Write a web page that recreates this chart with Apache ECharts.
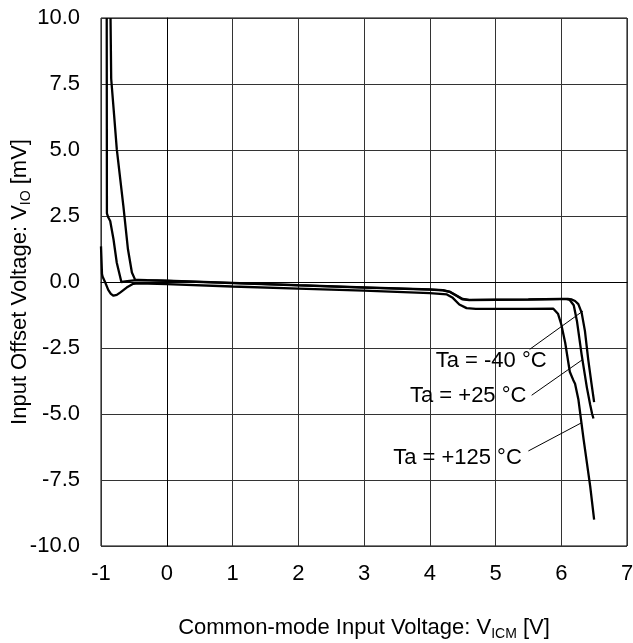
<!DOCTYPE html>
<html><head><meta charset="utf-8">
<script src="https://cdn.jsdelivr.net/npm/echarts@6/dist/echarts.min.js"></script>
<style>html,body{margin:0;padding:0;background:#fff;}#c{width:633px;height:643px;}</style>
</head><body><div id="c"></div>
<script>
const FONT = 'Liberation Sans, Arial, Helvetica, sans-serif';

// Ta = -40 °C
const xM40 = [-0.855, -0.845, -0.80, -0.76, -0.66, -0.59, -0.53, -0.48, -0.43, -0.3, 0, 1, 2, 3, 4, 4.2, 4.3, 4.4, 4.5, 4.6, 5, 5.5, 6.0, 6.1, 6.16, 6.21, 6.26, 6.31, 6.36, 6.41, 6.46, 6.50];
const yM40 = [10, 7.7, 6.3, 5.03, 2.88, 1.24, 0.36, 0.08, 0.08, 0.07, 0.05, -0.03, -0.12, -0.20, -0.28, -0.31, -0.36, -0.50, -0.64, -0.68, -0.67, -0.66, -0.64, -0.64, -0.66, -0.72, -0.84, -1.16, -1.85, -2.93, -3.85, -4.55];

// Ta = +25 °C
const xP25 = [-0.913, -0.910, -0.89, -0.86, -0.81, -0.76, -0.69, -0.60, -0.5, -0.4, 0, 1, 2, 3, 4, 4.2, 4.3, 4.4, 4.5, 4.6, 5, 5.5, 6.0, 6.08, 6.13, 6.19, 6.24, 6.31, 6.39, 6.44, 6.47, 6.49];
const yP25 = [10, 2.6, 2.45, 2.31, 1.62, 0.73, 0.0, 0.03, 0.06, 0.07, 0.04, -0.04, -0.13, -0.21, -0.29, -0.32, -0.37, -0.51, -0.66, -0.69, -0.68, -0.67, -0.65, -0.65, -0.68, -0.88, -1.5, -2.75, -4.0, -4.65, -5.0, -5.17];

// Ta = +125 °C
const xP125 = [-1.0, -0.985, -0.975, -0.96, -0.93, -0.89, -0.85, -0.81, -0.76, -0.71, -0.61, -0.51, -0.43, 0, 1, 2, 3, 4, 4.26, 4.35, 4.45, 4.56, 4.7, 5, 5.5, 5.88, 5.95, 6.0, 6.06, 6.13, 6.18, 6.21, 6.26, 6.34, 6.44, 6.50];
const yP125 = [1.35, 0.3, 0.2, 0.18, -0.05, -0.3, -0.45, -0.52, -0.49, -0.4, -0.21, -0.07, -0.05, -0.08, -0.17, -0.25, -0.33, -0.42, -0.47, -0.6, -0.85, -0.99, -1.02, -1.02, -1.02, -1.01, -1.2, -1.6, -2.3, -3.4, -3.7, -3.85, -4.44, -5.96, -7.73, -9.0];

const seriesNames = ['Ta = -40 °C', 'Ta = +25 °C', 'Ta = +125 °C'];
const seriesX = [xM40, xP25, xP125];
const seriesY = [yM40, yP25, yP125];

// annotation positions (data coordinates)
const labelTexts = ['Ta = -40 °C', 'Ta = +25 °C', 'Ta = +125 °C'];
const labelAt = [[4.09, -3.0], [5.47, -4.33], [5.40, -6.68]];
const labelAlign = ['left', 'right', 'right'];
const leaderFrom = [[5.52, -2.55], [5.55, -4.29], [5.50, -6.40]];
const leaderTo = [[6.33, -1.10], [6.33, -2.93], [6.31, -5.33]];

const chart = echarts.init(document.getElementById('c'), null, {renderer: 'canvas'});

const series = seriesNames.map((n, i) => ({
  name: n,
  type: 'line',
  showSymbol: false,
  symbol: 'none',
  animation: false,
  lineStyle: {color: '#000', width: 2.3},
  data: seriesX[i].map((x, k) => [x, seriesY[i][k]])
}));

chart.setOption({
  animation: false,
  backgroundColor: '#fff',
  textStyle: {fontFamily: FONT},
  grid: {left: 101, right: 6, top: 18, bottom: 97, show: true, borderColor: '#000', borderWidth: 1,
         containLabel: false, outerBoundsMode: 'none'},
  xAxis: {
    type: 'value', min: -1, max: 7, interval: 1,
    axisLine: {show: true, lineStyle: {color: '#000', width: 1}},
    axisTick: {show: false},
    splitLine: {show: true, lineStyle: {color: '#333', width: 1}},
    axisLabel: {color: '#000', fontSize: 22, fontFamily: FONT, margin: 17},
    name: '{m|Common-mode Input Voltage: V}{s|ICM}{m| [V]}',
    nameLocation: 'middle', nameGap: 69, nameMoveOverlap: false,
    nameTextStyle: {
      rich: {
        m: {fontSize: 22, fontFamily: FONT, color: '#000', lineHeight: 26},
        s: {fontSize: 14, fontFamily: FONT, color: '#000', lineHeight: 14, verticalAlign: 'bottom'}
      }
    }
  },
  yAxis: {
    type: 'value', min: -10, max: 10, interval: 2.5,
    axisLine: {show: true, lineStyle: {color: '#000', width: 1}},
    axisTick: {show: false},
    splitLine: {show: true, lineStyle: {color: '#333', width: 1}},
    axisLabel: {color: '#000', fontSize: 22, fontFamily: FONT, margin: 21, formatter: v => v.toFixed(1)},
    name: '{m|Input Offset Voltage: V}{s|IO}{m| [mV]}',
    nameLocation: 'middle', nameGap: 68, nameRotate: 90, nameMoveOverlap: false,
    nameTextStyle: {
      rich: {
        m: {fontSize: 22, fontFamily: FONT, color: '#000', lineHeight: 26},
        s: {fontSize: 14, fontFamily: FONT, color: '#000', lineHeight: 14, verticalAlign: 'bottom'}
      }
    }
  },
  series: series
});

const graphics = [];
labelTexts.forEach((t, i) => {
  const p = chart.convertToPixel({gridIndex: 0}, labelAt[i]);
  const a = chart.convertToPixel({gridIndex: 0}, leaderFrom[i]);
  const b = chart.convertToPixel({gridIndex: 0}, leaderTo[i]);
  graphics.push({
    type: 'text', x: p[0], y: p[1], z: 10,
    style: {text: t, fill: '#000', font: '22px ' + FONT, textAlign: labelAlign[i], textVerticalAlign: 'middle'}
  });
  graphics.push({
    type: 'line', z: 10,
    shape: {x1: a[0], y1: a[1], x2: b[0], y2: b[1]},
    style: {stroke: '#000', lineWidth: 1}
  });
});
chart.setOption({graphic: graphics});
</script>
</body></html>
